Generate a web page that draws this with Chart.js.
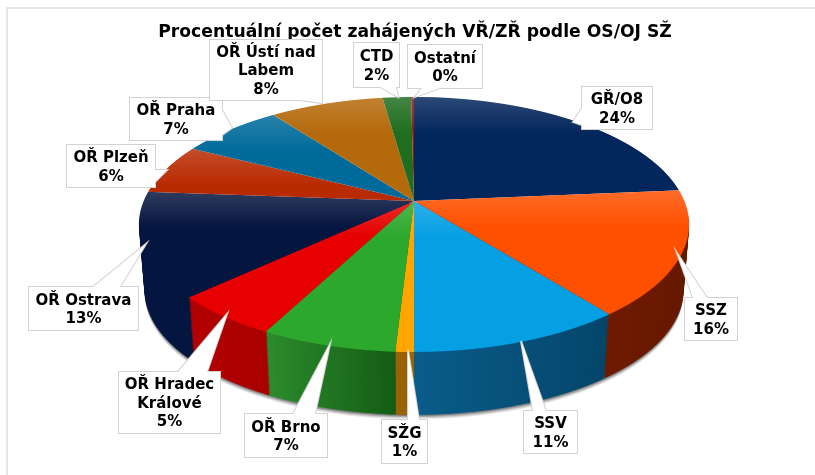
<!DOCTYPE html>
<html>
<head>
<meta charset="utf-8">
<script src="https://cdn.jsdelivr.net/npm/chart.js@4/dist/chart.umd.min.js"></script>
<style>
html, body { margin: 0; padding: 0; background: #fff; }
#box { width: 815px; height: 475px; }
</style>
</head>
<body>
<div id="box"><canvas id="myChart"></canvas></div>
<script>
// data
var categories = ["GŘ/O8", "SSZ", "SSV", "SŽG", "OŘ Brno", "OŘ Hradec Králové", "OŘ Ostrava", "OŘ Plzeň", "OŘ Praha", "OŘ Ústí nad Labem", "CTD", "Ostatní"];
var shares = [23.6, 15.8, 10.6, 0.9, 6.7, 5.4, 13.2, 6.4, 7.2, 8.0, 2.0, 0.2];
var chartTitle = "Procentuální počet zahájených VŘ/ZŘ podle OS/OJ SŽ";

// colours
var topColors = ["#03265c", "#ff5000", "#059fe4", "#ffa500", "#2ca82c", "#e60000", "#04153f", "#b82a00", "#006a9a", "#b4690a", "#1f6e1f", "#8b1a1a"];
var wallLeft = ["#03265c", "#6e1a00", "#0a5c8a", "#9a6200", "#2c8c2c", "#b40000", "#04153f", "#6e1a00", "#004060", "#6a4000", "#124012", "#501010"];
var wallRight = ["#03265c", "#641800", "#04456a", "#9a6200", "#145c14", "#a80000", "#04153f", "#6e1a00", "#004060", "#6a4000", "#124012", "#501010"];

// callouts: text lines, box [x0, y0, x1, y1], pointer tip, pointer base
var calloutLines = [["GŘ/O8"], ["SSZ"], ["SSV"], ["SŽG"], ["OŘ Brno"], ["OŘ Hradec", "Králové"], ["OŘ Ostrava"], ["OŘ Plzeň"], ["OŘ Praha"], ["OŘ Ústí nad", "Labem"], ["CTD"], ["Ostatní"]];
var calloutBoxes = [
	[582, 87, 652, 129], [685, 298, 737, 340], [524, 411, 577, 453], [382, 420, 427, 463],
	[245, 414, 327, 457], [119, 372, 220, 433], [29, 287, 138, 330], [67, 145, 155, 187],
	[130, 98, 222, 140], [210, 40, 322, 100], [354, 43, 399, 87], [408, 45, 482, 88]
];
var calloutTips = [
	[573, 122], [677, 253], [521, 341], [408, 350],
	[330, 344], [227, 314], [146, 244], [167, 170],
	[232, 128], [322, 103], [398, 97], [415, 97]
];
var calloutBases = [
	[582, 108, 582, 125], [693, 298, 707, 298], [533, 411, 546, 411], [408, 420, 419, 420],
	[293, 414, 315, 414], [178, 372, 207, 372], [93, 287, 120, 287], [155, 170, 155, 182],
	[222, 110, 222, 135], [300, 100, 322, 100], [380, 87, 396, 87], [422, 88, 440, 88]
];

// how the flat pie is tipped back: row-by-row perspective of the library's own arcs
var view = { cx: 414, cy: 201, k: 123.2, p: 0.184, K: 270.3, depth: 66, shrink: 0.02 };

// y on screen of a point of the plate, v from -1 (far) to 1 (near)
function plateY(v) {
	return view.cy + view.k * v / (1 - view.p * v);
}

function mix(hex, alpha) {
	var r = parseInt(hex.substr(1, 2), 16), g = parseInt(hex.substr(3, 2), 16), b = parseInt(hex.substr(5, 2), 16);
	return "rgb(" + Math.round(r + (255 - r) * alpha) + "," + Math.round(g + (255 - g) * alpha) + "," + Math.round(b + (255 - b) * alpha) + ")";
}

// copy of an arc element that draws with another fill, geometry stays the library's
function arcWith(arc, fill) {
	var copy = Object.create(arc);
	copy.options = Object.assign({}, arc.options, { backgroundColor: fill, borderWidth: 0 });
	return copy;
}

// draws arcs for screen rows y0..y1 on a plate that is t (0..1) down the wall
function drawRows(ctx, arcs, t, y0, y1, fillFor) {
	var s = 1 - view.shrink * t;
	var cy = view.cy + view.depth * t;
	var first = arcs[0];
	var R = first.outerRadius;
	for (var y = Math.floor(y0); y < y1; y++) {
		var dy = (y + 0.5 - cy) / s;
		var v = dy / (view.k + view.p * dy);
		if (v < -1 || v > 1) continue;
		var sx = s * view.K / (1 - view.p * v) / R;
		var dvdy = view.k / Math.pow(view.k + view.p * dy, 2) / s;
		var sy = 1 / (R * dvdy);
		ctx.save();
		ctx.beginPath();
		ctx.rect(0, y, ctx.canvas.width, 1);
		ctx.clip();
		ctx.setTransform(sx, 0, 0, sy, view.cx - first.x * sx, y + 0.5 - (first.y + v * R) * sy);
		for (var i = 0; i < arcs.length; i++) {
			arcWith(arcs[i], fillFor(i, y)).draw(ctx);
		}
		ctx.restore();
	}
}

var tiltedPie = {
	id: "tiltedPie",
	beforeDatasetsDraw: function(chart) {
		var ctx = chart.ctx;
		var arcs = chart.getDatasetMeta(0).data;
		var R = arcs[0].outerRadius;
		var whole = Object.create(arcs[0]);
		whole.startAngle = -Math.PI / 2;
		whole.endAngle = Math.PI * 1.5;
		whole.circumference = Math.PI * 2;

		// soft shadow under the rim
		for (var n = 4; n >= 1; n--) {
			var shade = "rgba(0,0,0," + (0.28 - n * 0.05) + ")";
			drawRows(ctx, [whole], 1 + n * 0.018, 300, 430, function() { return shade; });
		}

		// wall, each slice shaded from left to right
		var grads = [];
		arcs.forEach(function(arc, i) {
			var xa = arc.x + R * Math.cos(arc.startAngle), xb = arc.x + R * Math.cos(arc.endAngle);
			var g = ctx.createLinearGradient(Math.min(xa, xb), 0, Math.max(xa, xb) + 1, 0);
			g.addColorStop(0, wallLeft[i]);
			g.addColorStop(1, wallRight[i]);
			grads.push(g);
		});
		for (var d = view.depth; d > 0; d -= 2) {
			var t = d / view.depth;
			drawRows(ctx, arcs, t, view.cy + d, view.cy + d + 152, function(i) { return grads[i]; });
		}

		// top face, each slice lit from its own upper edge
		var tops = arcs.map(function(arc) {
			var a = arc.startAngle, b = arc.endAngle;
			var lowest = Math.min(Math.sin(a), Math.sin(b), 0);
			if (a <= -Math.PI / 2 && b >= -Math.PI / 2) lowest = -1;
			if (a <= Math.PI * 1.5 && b >= Math.PI * 1.5) lowest = -1;
			return plateY(lowest);
		});
		drawRows(ctx, arcs, 0, 96, 353, function(i, y) {
			var glow = Math.max(0, 1 - (y - tops[i]) / 36) * 0.16;
			return mix(topColors[i], glow);
		});
		return false;
	},
	// the datasets hook above cancels the default draw, so the boxes go on here
	afterDraw: function(chart) {
		var ctx = chart.ctx;
		ctx.save();
		// faint frame at top and left
		ctx.fillStyle = "#e6e6e6";
		ctx.fillRect(6, 7, 809, 2);
		ctx.fillRect(6, 7, 2, 468);
		for (var i = 0; i < categories.length; i++) {
			var b = calloutBoxes[i], tip = calloutTips[i], base = calloutBases[i];
			ctx.beginPath();
			ctx.rect(b[0], b[1], b[2] - b[0], b[3] - b[1]);
			ctx.moveTo(base[0], base[1]);
			ctx.lineTo(tip[0], tip[1]);
			ctx.lineTo(base[2], base[3]);
			ctx.closePath();
			ctx.lineWidth = 2;
			ctx.strokeStyle = "#d2d2d2";
			ctx.stroke();
			ctx.fillStyle = "#fff";
			ctx.fill("nonzero");
			ctx.fillRect(b[0] + 1, b[1] + 1, b[2] - b[0] - 2, b[3] - b[1] - 2);

			var lines = calloutLines[i].concat([Math.round(shares[i]) + "%"]);
			var mid = (b[0] + b[2]) / 2;
			var y = (b[1] + b[3]) / 2 + 1.5 - (lines.length - 1) * 9.25;
			ctx.fillStyle = "#000";
			ctx.font = "bold 15px 'DejaVu Sans'";
			ctx.textAlign = "center";
			ctx.textBaseline = "middle";
			lines.forEach(function(line, n) {
				ctx.fillText(line, mid, y + n * 18.5);
			});
		}
		ctx.restore();
	}
};

var myChart = new Chart(document.getElementById("myChart"), {
	type: "pie",
	data: {
		labels: categories,
		datasets: [{ data: shares, backgroundColor: topColors, borderWidth: 0 }]
	},
	options: {
		responsive: true,
		maintainAspectRatio: false,
		animation: false,
		layout: { padding: { left: 15 } },
		plugins: {
			legend: { display: false },
			tooltip: { enabled: false },
			title: {
				display: true,
				text: chartTitle,
				color: "#000",
				font: { family: "'DejaVu Sans'", size: 17.2, weight: "bold" },
				padding: { top: 22, bottom: 10 }
			}
		}
	},
	plugins: [tiltedPie]
});
</script>
</body>
</html>
